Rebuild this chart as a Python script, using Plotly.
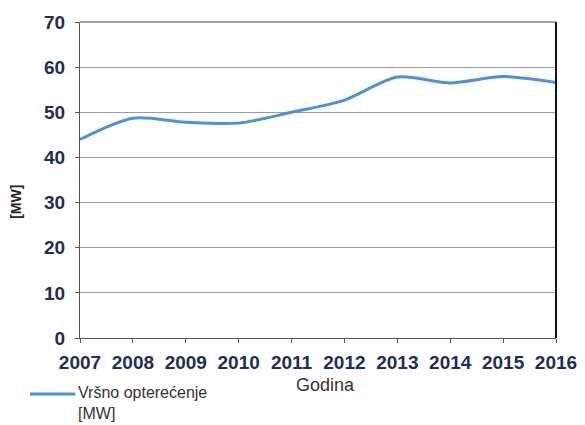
import plotly.graph_objects as go

years = [2007, 2008, 2009, 2010, 2011, 2012, 2013, 2014, 2015, 2016]
peak_load = [44.0, 48.7, 47.8, 47.6, 50.0, 52.7, 57.8, 56.5, 57.9, 56.6]
y_ticks = [0, 10, 20, 30, 40, 50, 60, 70]

navy = "#1c2f55"
line_col = "#4a94dc"
fnt = "Liberation Sans, Arial"

fig = go.Figure(go.Scatter(
    x=years, y=peak_load, mode="lines", name="Vršno opterećenje [MW]",
    line=dict(color=line_col, width=3, shape="spline", smoothing=0.8)
))

# page body has an 8px margin, so the figure is a bit smaller than the window
fig.update_layout(
    width=577, height=417,
    margin=dict(l=72, r=29, t=14, b=87),
    plot_bgcolor="#FFFFFF", paper_bgcolor="#FFFFFF",
    showlegend=False,
    font=dict(family=fnt, color=navy),
)

fig.update_xaxes(
    range=[2007, 2016], tickvals=years, ticktext=["<b>%d</b>" % y for y in years],
    tickfont=dict(size=19, color=navy, family=fnt),
    ticks="outside", ticklen=4, tickcolor="#555555", ticklabelstandoff=3,
    showline=True, linecolor="#555555", linewidth=1,
    showgrid=False, zeroline=False, automargin=False,
)
fig.update_yaxes(
    range=[0, 70], tickvals=y_ticks, ticktext=["<b>%d</b>" % v for v in y_ticks],
    tickfont=dict(size=19, color=navy, family=fnt),
    ticks="outside", ticklen=4, tickcolor="#555555", ticklabelstandoff=6,
    showline=True, linecolor="#555555", linewidth=1,
    showgrid=True, gridcolor="#9a9a9a", gridwidth=1, zeroline=False,
    automargin=False,
)

# right and top frame
fig.add_shape(type="line", xref="paper", yref="paper", x0=1, x1=1, y0=0, y1=1,
              line=dict(color="#111111", width=2))
fig.add_shape(type="line", xref="paper", yref="paper", x0=0, x1=1, y0=1, y1=1,
              line=dict(color="#444444", width=1))

# y title
fig.add_annotation(text="<b>[MW]</b>", xref="paper", yref="paper", x=-0.135, y=0.43,
                   showarrow=False, textangle=-90, xanchor="center", yanchor="middle",
                   font=dict(size=14, color="#222222", family=fnt))

# x title
fig.add_annotation(text="Godina", xref="paper", yref="paper", x=0.515, y=-0.149,
                   showarrow=False, xanchor="center", yanchor="middle",
                   font=dict(size=18, color="#333333", family=fnt))

# legend drawn by hand
fig.add_shape(type="line", xref="paper", yref="paper", x0=-0.105, x1=-0.01, y0=-0.177, y1=-0.177,
              line=dict(color=line_col, width=3))
fig.add_annotation(text="Vršno opterećenje<br>[MW]", xref="paper", yref="paper", x=-0.008, y=-0.206,
                   showarrow=False, xanchor="left", yanchor="middle", align="left",
                   font=dict(size=16, color="#333333", family=fnt))

fig.write_html("out.html")
